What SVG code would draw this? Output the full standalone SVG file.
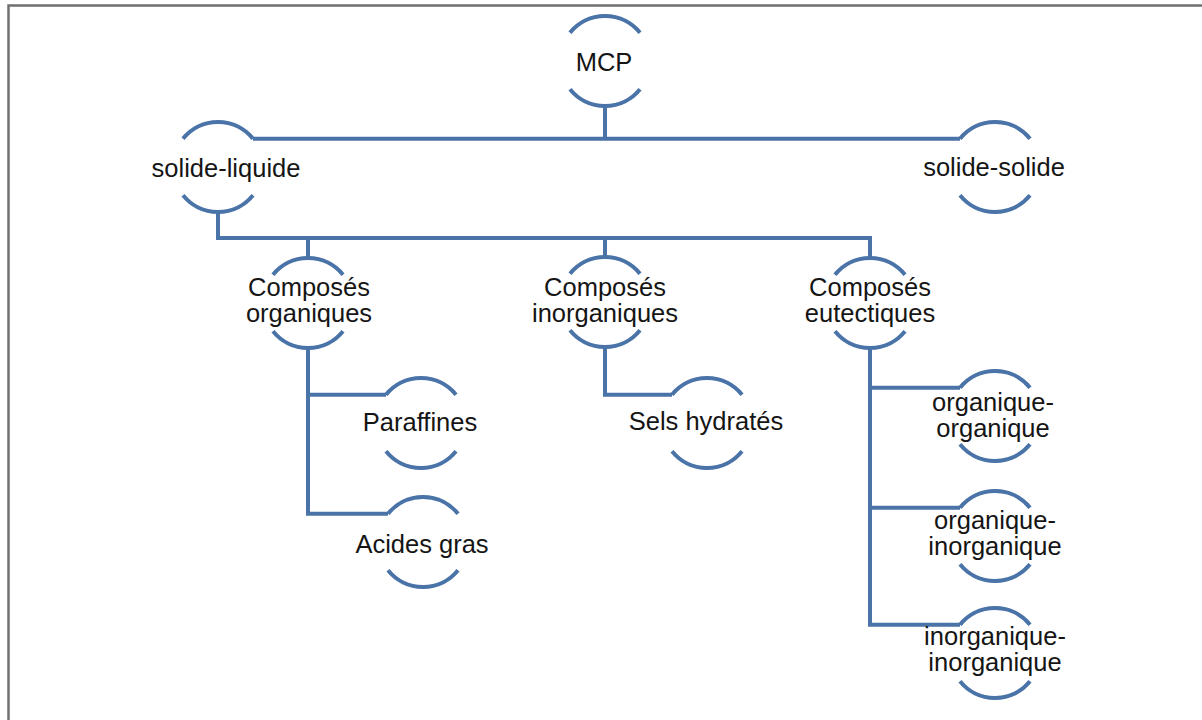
<svg xmlns="http://www.w3.org/2000/svg" width="1202" height="720" viewBox="0 0 1202 720">
<style>
.arc{fill:none;stroke:#4a73a8;stroke-width:4;stroke-linecap:butt}
.con{fill:none;stroke:#4a73a8;stroke-width:4;stroke-linejoin:miter}
text{font-family:"Liberation Sans",Arial,sans-serif;font-size:25.5px;fill:#151515;text-anchor:middle}
.frame{fill:none;stroke:#707070;stroke-width:2.5}
</style>
<rect width="1202" height="720" fill="#ffffff"/>
<path class="frame" d="M8.5 720 V5.5 H1202"/>
<g id="connectors">
<path class="con" d="M253 138.7 H960"/>
<path class="con" d="M605 106 V138.7"/>
<path class="con" d="M218 212 V238 H870 V258"/>
<path class="con" d="M308 238 V258"/>
<path class="con" d="M605 238 V257"/>
<path class="con" d="M308 348 V513.7 H388"/>
<path class="con" d="M308 394.7 H386"/>
<path class="con" d="M605 347 V394.7 H672"/>
<path class="con" d="M870 348 V624.7 H960"/>
<path class="con" d="M870 387.7 H960"/>
<path class="con" d="M870 507.7 H960"/>
</g>
<g id="n-mcp">
<path class="arc" d="M570 32.7 A45 45 0 0 1 640 32.7"/>
<path class="arc" d="M570 89.3 A45 45 0 0 0 640 89.3"/>
<text x="604" y="71">MCP</text>
</g>
<g id="n-solide-liquide">
<path class="arc" d="M183 138.7 A45 45 0 0 1 253 138.7"/>
<path class="arc" d="M183 195.3 A45 45 0 0 0 253 195.3"/>
<text x="226" y="177">solide-liquide</text>
</g>
<g id="n-solide-solide">
<path class="arc" d="M960 138.7 A45 45 0 0 1 1030 138.7"/>
<path class="arc" d="M960 195.3 A45 45 0 0 0 1030 195.3"/>
<text x="994" y="176">solide-solide</text>
</g>
<g id="n-organiques">
<path class="arc" d="M273 274.7 A45 45 0 0 1 343 274.7"/>
<path class="arc" d="M273 331.3 A45 45 0 0 0 343 331.3"/>
<text x="309" y="296">Composés</text>
<text x="309" y="322">organiques</text>
</g>
<g id="n-inorganiques">
<path class="arc" d="M570 273.7 A45 45 0 0 1 640 273.7"/>
<path class="arc" d="M570 330.3 A45 45 0 0 0 640 330.3"/>
<text x="605" y="296">Composés</text>
<text x="605" y="322">inorganiques</text>
</g>
<g id="n-eutectiques">
<path class="arc" d="M835 274.7 A45 45 0 0 1 905 274.7"/>
<path class="arc" d="M835 331.3 A45 45 0 0 0 905 331.3"/>
<text x="870" y="296">Composés</text>
<text x="870" y="322">eutectiques</text>
</g>
<g id="n-paraffines">
<path class="arc" d="M386 394.7 A45 45 0 0 1 456 394.7"/>
<path class="arc" d="M386 451.3 A45 45 0 0 0 456 451.3"/>
<text x="420" y="431">Paraffines</text>
</g>
<g id="n-acides-gras">
<path class="arc" d="M388 513.7 A45 45 0 0 1 458 513.7"/>
<path class="arc" d="M388 570.3 A45 45 0 0 0 458 570.3"/>
<text x="422" y="553">Acides gras</text>
</g>
<g id="n-sels-hydrates">
<path class="arc" d="M672 394.7 A45 45 0 0 1 742 394.7"/>
<path class="arc" d="M672 451.3 A45 45 0 0 0 742 451.3"/>
<text x="706" y="430">Sels hydratés</text>
</g>
<g id="n-org-org">
<path class="arc" d="M960 387.7 A45 45 0 0 1 1030 387.7"/>
<path class="arc" d="M960 444.3 A45 45 0 0 0 1030 444.3"/>
<text x="993" y="411">organique-</text>
<text x="993" y="437">organique</text>
</g>
<g id="n-org-inorg">
<path class="arc" d="M960 507.7 A45 45 0 0 1 1030 507.7"/>
<path class="arc" d="M960 564.3 A45 45 0 0 0 1030 564.3"/>
<text x="995" y="529">organique-</text>
<text x="995" y="555">inorganique</text>
</g>
<g id="n-inorg-inorg">
<path class="arc" d="M960 624.7 A45 45 0 0 1 1030 624.7"/>
<path class="arc" d="M960 681.3 A45 45 0 0 0 1030 681.3"/>
<text x="995" y="645">inorganique-</text>
<text x="995" y="671">inorganique</text>
</g>
</svg>
